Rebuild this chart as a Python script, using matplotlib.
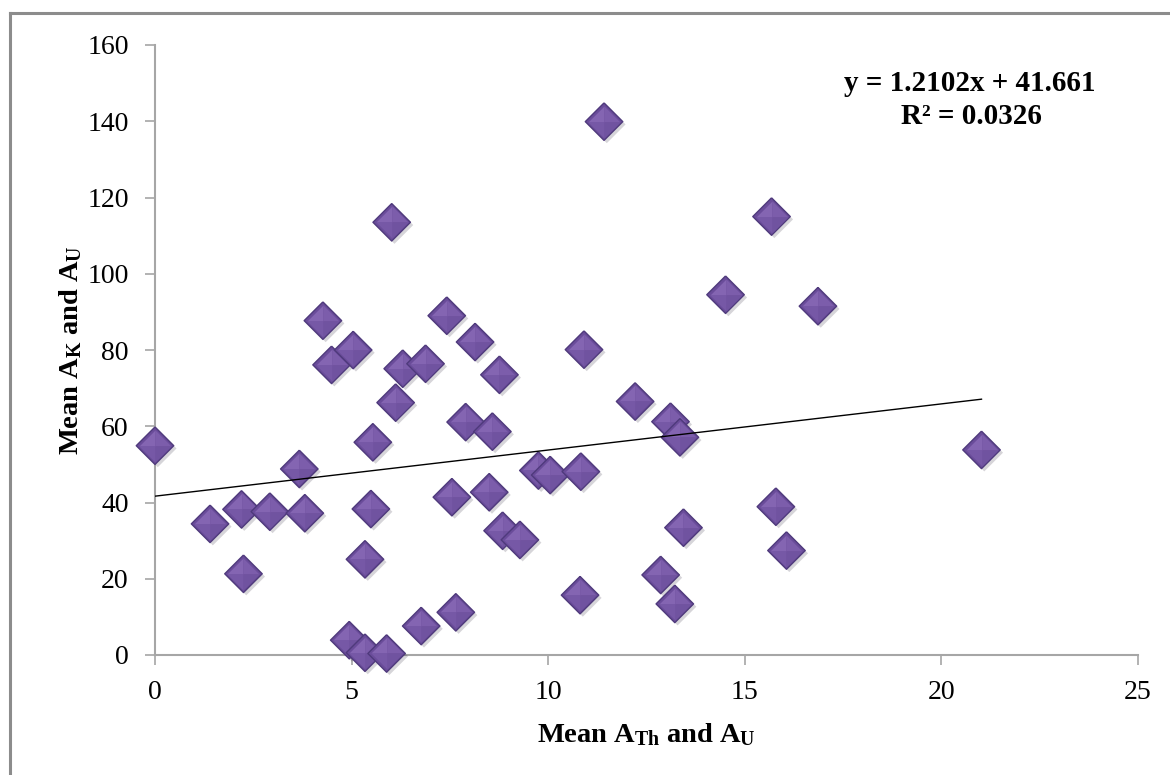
import matplotlib
matplotlib.use("Agg")
import matplotlib.pyplot as plt
import matplotlib.patheffects as pe
from matplotlib.lines import Line2D

# mean A_Th and A_U (x) vs mean A_K and A_U (y)
x_vals = [0.00, 1.40, 2.20, 2.25, 2.92, 3.67, 3.81, 4.27, 4.49, 4.94,
          5.04, 5.34, 5.34, 5.49, 5.54, 5.89, 6.02, 6.12, 6.30, 6.77,
          6.88, 7.42, 7.55, 7.65, 7.90, 8.14, 8.50, 8.58, 8.76, 8.84,
          9.28, 9.75, 10.05, 10.81, 10.83, 10.91, 11.42, 12.21, 12.86, 13.11,
          13.22, 13.35, 13.44, 14.51, 15.68, 15.79, 16.06, 16.86, 21.02]
y_vals = [54.9, 34.4, 38.2, 21.3, 37.6, 48.8, 37.2, 87.7, 76.1, 3.9,
          80.0, 25.1, 0.6, 38.3, 55.8, 0.4, 113.5, 66.2, 75.1, 7.6,
          76.4, 89.0, 41.4, 11.2, 61.1, 82.1, 42.7, 58.6, 73.5, 32.6,
          30.2, 48.4, 47.2, 15.7, 48.1, 80.1, 139.9, 66.5, 21.0, 61.2,
          13.4, 57.1, 33.4, 94.5, 115.0, 38.9, 27.4, 91.5, 53.8]

# linear trend shown on the chart
slope = 1.2102
intercept = 41.661
r_squared = 0.0326

x_ticks = [0, 5, 10, 15, 20, 25]
y_ticks = [0, 20, 40, 60, 80, 100, 120, 140, 160]

plt.rcParams["font.family"] = ["Liberation Serif", "DejaVu Serif"]
plt.rcParams["mathtext.fontset"] = "custom"
plt.rcParams["mathtext.rm"] = "Liberation Serif"
plt.rcParams["mathtext.bf"] = "Liberation Serif:bold"
plt.rcParams["mathtext.it"] = "Liberation Serif:italic"

fig = plt.figure(figsize=(11.7, 7.75), dpi=100)
ax = fig.add_axes([155 / 1170, 120 / 775, 983 / 1170, 610 / 775])

# outer frame (only top and left edges visible in the reference crop)
frame_kw = dict(color="#8c8c8c", lw=2.2, transform=fig.transFigure)
fig.add_artist(Line2D([10 / 1170, 1.0], [1 - 13 / 775, 1 - 13 / 775], **frame_kw))
fig.add_artist(Line2D([10 / 1170, 10 / 1170], [0.0, 1 - 13 / 775], **frame_kw))

# bevelled diamond markers: outline + four softly shaded facets
facets = [
    ([(0, 0), (-1, 0), (0, 1), (0, 0)], "#8465b2"),   # top-left
    ([(0, 0), (0, 1), (1, 0), (0, 0)], "#7c5dab"),    # top-right
    ([(0, 0), (1, 0), (0, -1), (0, 0)], "#7053a0"),   # bottom-right
    ([(0, 0), (0, -1), (-1, 0), (0, 0)], "#7658a6"),  # bottom-left
]
diamond = [(0, 1), (1, 0), (0, -1), (-1, 0), (0, 1)]
ms = 27
shadow = [pe.SimplePatchShadow(offset=(2, -2), alpha=0.18), pe.Normal()]
for i, (xv, yv) in enumerate(zip(x_vals, y_vals)):
    z = 3 + i * 0.01
    ax.plot(xv, yv, marker=diamond, ms=ms, ls="none", mfc="#6a4c9a",
            mec="#4f3a7c", mew=1.0, clip_on=False, zorder=z,
            path_effects=shadow)
    for verts, col in facets:
        ax.plot(xv, yv, marker=verts, ms=ms - 4, ls="none", mfc=col,
                mec="none", clip_on=False, zorder=z + 0.001)

# trend line over the data range
x_line = [0, max(x_vals)]
y_line = [slope * v + intercept for v in x_line]
ax.plot(x_line, y_line, color="black", lw=1.0, zorder=10)

ax.text(0.829, 0.937, f"y = {slope}x + {intercept}", transform=ax.transAxes,
        ha="center", va="center", fontsize=21, fontweight="bold")
ax.text(0.831, 0.883, f"R\u00b2 = {r_squared}", transform=ax.transAxes,
        ha="center", va="center", fontsize=21, fontweight="bold")

ax.set_xlim(0, 25)
ax.set_ylim(0, 160)
ax.set_xticks(x_ticks)
ax.set_yticks(y_ticks)
ax.tick_params(axis="both", labelsize=20, color="#a6a6a6", length=7,
               width=1.2, direction="out")
ax.tick_params(axis="y", pad=12)
ax.tick_params(axis="x", pad=11)
for side in ("top", "right"):
    ax.spines[side].set_visible(False)
for side in ("left", "bottom"):
    ax.spines[side].set_color("#a6a6a6")
    ax.spines[side].set_linewidth(1.5)

ax.set_xlabel(r"$\mathbf{Mean\ A_{Th}\ and\ A_{U}}$", fontsize=20.5)
ax.set_ylabel(r"$\mathbf{Mean\ A_{K}\ and\ A_{U}}$", fontsize=20.5)
ax.xaxis.set_label_coords(0.5, -0.108)
ax.yaxis.set_label_coords(-0.072, 0.5)

fig.savefig("out.png", dpi=100)
